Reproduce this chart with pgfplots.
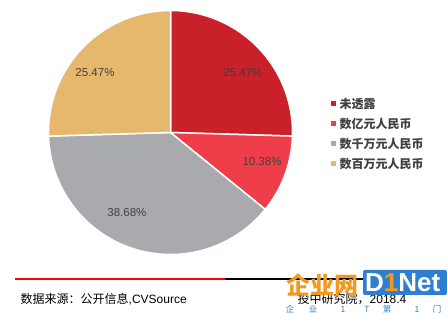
\documentclass[border=0pt]{standalone}
\usepackage{pgfplots}
\pgfplotsset{compat=1.18}
\usepackage{fontspec}
\setmainfont{Liberation Sans}
\newfontfamily\cjk{Noto Sans CJK SC}
\definecolor{cA}{HTML}{C9202A}
\definecolor{cB}{HTML}{EF3E4A}
\definecolor{cC}{HTML}{A9AAAE}
\definecolor{cD}{HTML}{E6B86E}
\definecolor{txt}{HTML}{404040}
\definecolor{logoblue}{HTML}{2F7FD0}
\definecolor{logoorange}{HTML}{F39A1E}
\begin{document}
\begin{tikzpicture}
% slice values (percent)
\def\vA{25.47}\def\vB{10.38}\def\vC{38.68}\def\vD{25.47}
\pgfmathsetmacro\aA{90}
\pgfmathsetmacro\aB{\aA-3.6*\vA}
\pgfmathsetmacro\aC{\aB-3.6*\vB}
\pgfmathsetmacro\aD{\aC-3.6*\vC}
\pgfmathsetmacro\aE{\aD-3.6*\vD}
\fill[white] (0,0) rectangle (447pt,313pt);
\begin{axis}[at={(170.5pt,180.5pt)}, anchor=center, scale only axis,
  width=244pt, height=244pt, xmin=-1, xmax=1, ymin=-1, ymax=1,
  hide axis, clip=false]
\addplot[fill=cA, draw=white, line width=1.5pt, domain=\aB:\aA, samples=80, variable=\t] ({cos(t)},{sin(t)}) -- (axis cs:0,0) -- cycle;
\addplot[fill=cB, draw=white, line width=1.5pt, domain=\aC:\aB, samples=40, variable=\t] ({cos(t)},{sin(t)}) -- (axis cs:0,0) -- cycle;
\addplot[fill=cC, draw=white, line width=1.5pt, domain=\aD:\aC, samples=100, variable=\t] ({cos(t)},{sin(t)}) -- (axis cs:0,0) -- cycle;
\addplot[fill=cD, draw=white, line width=1.5pt, domain=\aE:\aD, samples=80, variable=\t] ({cos(t)},{sin(t)}) -- (axis cs:0,0) -- cycle;
\node[text=txt, font=\fontsize{11.5}{12}\selectfont] at (axis cs:0.594,0.488) {25.47\%};
\node[text=txt, font=\fontsize{11.5}{12}\selectfont] at (axis cs:0.75,-0.242) {10.38\%};
\node[text=txt, font=\fontsize{11.5}{12}\selectfont] at (axis cs:-0.357,-0.652) {38.68\%};
\node[text=txt, font=\fontsize{11.5}{12}\selectfont] at (axis cs:-0.619,0.488) {25.47\%};
\end{axis}
% legend
\fill[cA] (330.8pt,206.5pt) rectangle +(5pt,5pt);
\fill[cB] (330.8pt,186.5pt) rectangle +(5pt,5pt);
\fill[cC] (330.8pt,166.5pt) rectangle +(5pt,5pt);
\fill[cD] (330.8pt,146.5pt) rectangle +(5pt,5pt);
\begin{scope}[every node/.style={anchor=west, text=txt, inner sep=0pt, font=\cjk\bfseries\fontsize{12}{12}\selectfont}]
\node at (339.5pt,209pt) {未透露};
\node at (339.5pt,189pt) {数亿元人民币};
\node at (339.5pt,169pt) {数千万元人民币};
\node at (339.5pt,149pt) {数百万元人民币};
\end{scope}
% bottom rule
\draw[red, line width=1.6pt] (15pt,34pt) -- (225pt,34pt);
\draw[black, line width=1.6pt] (225pt,34pt) -- (440pt,34pt);
\node[anchor=west, inner sep=0pt, font=\fontsize{12}{12}\selectfont] at (20.5pt,14pt) {{\cjk 数据来源：公开信息},CVSource};
\node[anchor=west, inner sep=0pt, font=\fontsize{12}{12}\selectfont] at (297.5pt,13.5pt) {{\cjk 投中研究院，}2018.4};
% watermark logo
\node[anchor=west, inner sep=0pt, text=logoorange, font=\cjk\bfseries\fontsize{24}{24}\selectfont] at (286pt,28pt) {企业网};
\fill[logoblue, rounded corners=2pt] (363pt,18pt) rectangle (447pt,43pt);
\node[anchor=west, inner sep=0pt, text=white, font=\bfseries\fontsize{26}{26}\selectfont] at (365pt,30pt) {D{\color{logoorange}1}Net};
\foreach \x/\c in {290/企,313/业,343/1,367/T,387/第,417/1,437/门}
  \node[inner sep=0pt, text=logoblue, font=\cjk\fontsize{8.5}{8.5}\selectfont] at (\x pt,3.5pt) {\c};
\pgfresetboundingbox
\useasboundingbox (0,0) rectangle (447pt,313pt);
\end{tikzpicture}
\end{document}
